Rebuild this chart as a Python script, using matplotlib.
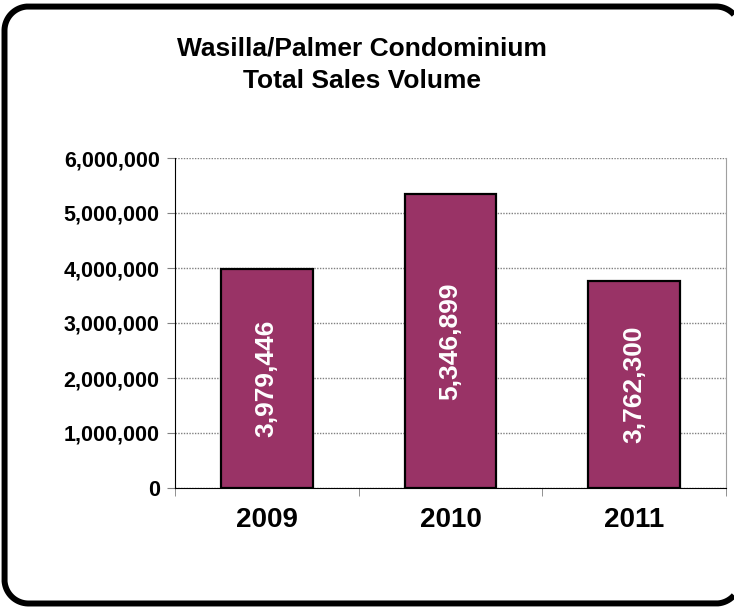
import numpy as np
import matplotlib.pyplot as plt
from matplotlib.ticker import FuncFormatter, FixedLocator

plt.rcParams['font.family'] = ['Liberation Sans', 'DejaVu Sans']

years = ["2009", "2010", "2011"]
volume = [3979446, 5346899, 3762300]

W, H = 734, 608
fig = plt.figure(figsize=(W / 100, H / 100), dpi=100)

# overlay in pixel units (y down) for the rounded frame; the right side of the
# frame lies past the edge of the figure, so only its corners show
bg = fig.add_axes([0, 0, 1, 1])
bg.set_xlim(0, W)
bg.set_ylim(H, 0)
bg.axis("off")

left, top, right, bottom, r = 4.5, 6.5, 740.0, 603.5, 24.0


def arc(cx, cy, a0, a1):
    t = np.radians(np.linspace(a0, a1, 40))
    return cx + r * np.cos(t), cy - r * np.sin(t)


a_end = np.degrees(np.arccos((W - (right - r)) / r))
pieces = [
    arc(right - r, top + r, a_end, 90),        # top-right corner (partial)
    arc(left + r, top + r, 90, 180),           # top-left corner
    arc(left + r, bottom - r, 180, 270),       # bottom-left corner
    arc(right - r, bottom - r, 270, 360 - a_end),  # bottom-right corner (partial)
]
fx = np.concatenate([p[0] for p in pieces])
fy = np.concatenate([p[1] for p in pieces])
bg.plot(fx, fy, color="black", linewidth=4.3, solid_capstyle="butt", clip_on=False)

ax = fig.add_axes([175 / W, 1 - 488 / H, (726 - 175) / W, (488 - 158) / H])

x = range(len(years))
ax.bar(x, volume, width=0.5, color="#993366", edgecolor="black", linewidth=1.6, zorder=3)

for i, v in enumerate(volume):
    ax.text(i, v / 2, f"{v:,}", rotation=90, ha="center", va="center",
            color="white", fontsize=19, fontweight="bold", zorder=4)

ax.set_xlim(-0.5, 2.5)
ax.set_ylim(0, 6000000)
ax.set_yticks(range(0, 6000001, 1000000))
ax.yaxis.set_major_formatter(FuncFormatter(lambda v, p: f"{int(v):,}"))
ax.set_xticks(list(x))
ax.set_xticklabels(years)
ax.xaxis.set_minor_locator(FixedLocator([-0.5, 0.5, 1.5, 2.5]))
ax.tick_params(axis="x", which="major", length=0, labelsize=20, pad=14)
ax.tick_params(axis="x", which="minor", length=6, color="#808080", direction="out")
ax.tick_params(axis="y", length=6, color="#808080", labelsize=15.5, pad=5)
for lab in ax.get_xticklabels() + ax.get_yticklabels():
    lab.set_fontweight("bold")

ax.grid(axis="y", linestyle=(0, (1, 1)), color="#808080", linewidth=1, zorder=0)
ax.spines["top"].set_visible(False)
ax.spines["right"].set_color("#a0a0a0")
ax.spines["left"].set_color("black")
ax.spines["bottom"].set_color("black")

fig.text(362 / W, 1 - 49 / H, "Wasilla/Palmer Condominium", ha="center", va="center",
         fontsize=19, fontweight="bold")
fig.text(362 / W, 1 - 81 / H, "Total Sales Volume", ha="center", va="center",
         fontsize=19, fontweight="bold")

fig.savefig("out.png", dpi=100)
